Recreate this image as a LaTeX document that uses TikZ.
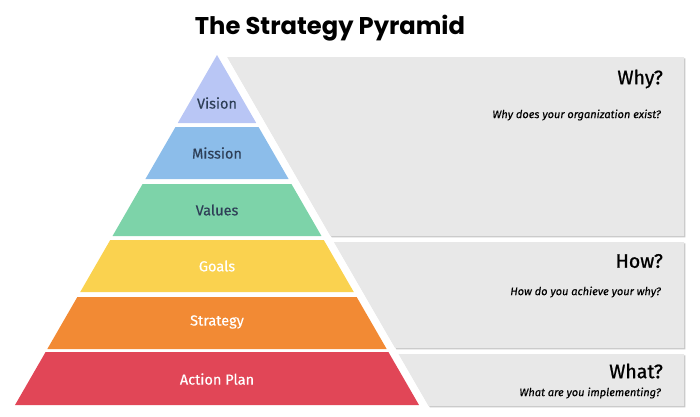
\documentclass[tikz,border=0pt]{standalone}
\usepackage{fontspec}
\setmainfont{Fira Sans}[FakeBold=0.3]
\newfontfamily\titlefont{Poppins}
\newfontfamily\headfont{Fira Sans}[FakeBold=0.9]

\definecolor{vision}{HTML}{B9C6F5}
\definecolor{mission}{HTML}{8CBDEA}
\definecolor{values}{HTML}{7DD3A9}
\definecolor{goals}{HTML}{FAD24F}
\definecolor{strategy}{HTML}{F28A34}
\definecolor{actionplan}{HTML}{E14657}
\definecolor{ink}{HTML}{2E3F57}
\definecolor{panel}{HTML}{E8E8E8}

\newcommand\pyrslope{0.5771}

\tikzset{
  band label/.style={inner sep=0pt, font=\fontsize{14.5}{16}\selectfont},
  head/.style={anchor=east, inner sep=0pt, font=\headfont\fontsize{19.5}{22}\selectfont},
  question/.style={anchor=east, inner sep=0pt, font=\itshape\fontsize{11}{13}\selectfont}
}

\begin{document}
\begin{tikzpicture}[x=1pt,y=-1pt]
\useasboundingbox (0,0) rectangle (700,416);

\node[inner sep=0pt, font=\titlefont\bfseries\fontsize{24.2}{27}\selectfont] (title) at (330,28) {The Strategy Pyramid};

% the pyramid
\foreach \yt/\yb/\ly/\col/\tcol/\txt/\nm in
  {55/123/103/vision/ink/Vision/vision,
   127/179/153/mission/ink/Mission/mission,
   184/236/210/values/ink/Values/values,
   240/292/266/goals/white/Goals/goals,
   297/349/322/strategy/white/Strategy/strategy,
   352/405/379/actionplan/white/Action Plan/actionplan}
{
\fill[\col] ({217-(\yt-55)*\pyrslope},\yt) -- ({217+(\yt-55)*\pyrslope},\yt)
  -- ({217+(\yb-55)*\pyrslope},\yb) -- ({217-(\yb-55)*\pyrslope},\yb) -- cycle;
\node[band label, text=\tcol] (\nm) at (217,\ly) {\txt};
}

% the grey panels
\foreach \yt/\yb/\hy/\qy/\hd/\qu/\nm in
  {57/236/79/115/Why?/Why does your organization exist?/why,
   242/348/261/292/How?/How do you achieve your why?/how,
   354/406/371/393/What?/What are you implementing?/what}
{
\fill[black!22, shift={(1.3,1.3)}] ({226+(\yt-55)*\pyrslope},\yt) -- (684,\yt)
  -- (684,\yb) -- ({226+(\yb-55)*\pyrslope},\yb) -- cycle;
\fill[panel] ({226+(\yt-55)*\pyrslope},\yt) -- (684,\yt)
  -- (684,\yb) -- ({226+(\yb-55)*\pyrslope},\yb) -- cycle;
\node[head] (\nm) at (663,\hy) {\hd};
\node[question] (\nm q) at (661,\qy) {\qu};
}
\end{tikzpicture}
\end{document}
